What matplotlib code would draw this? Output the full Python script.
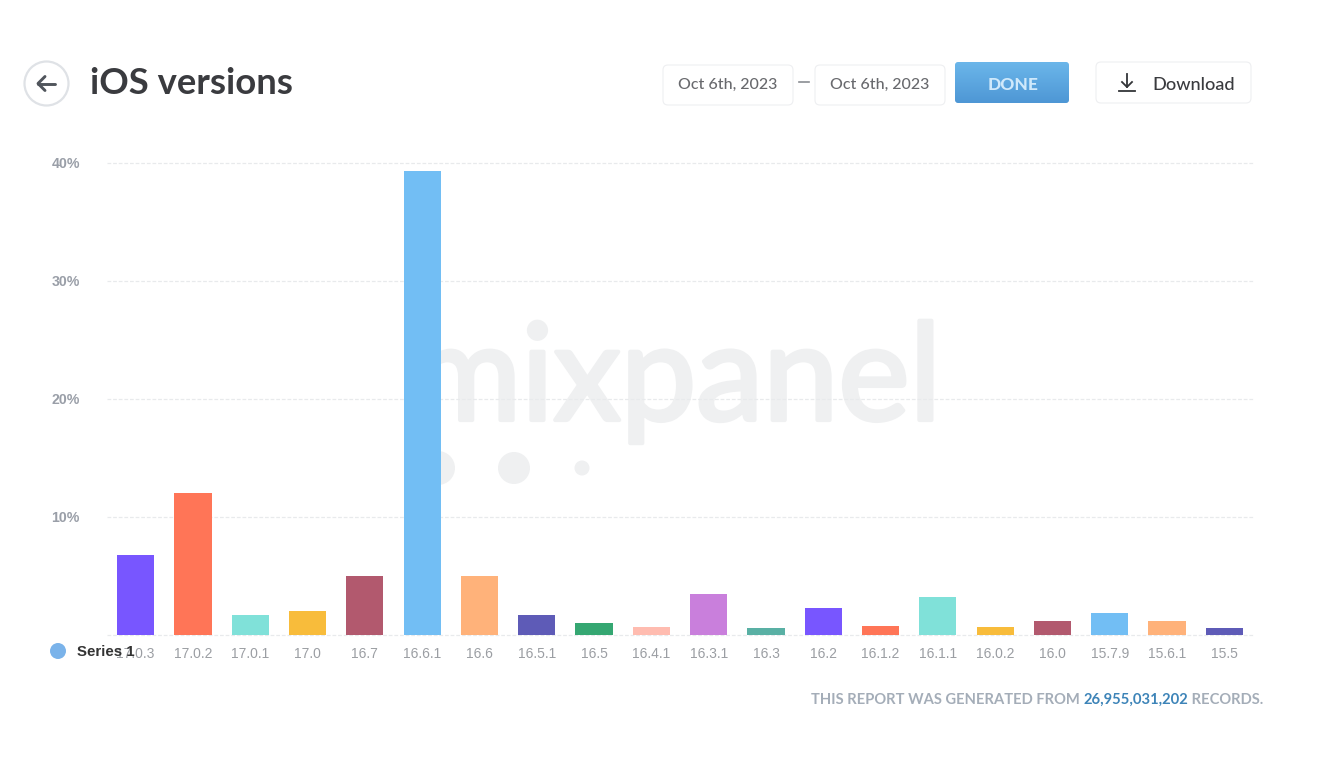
import numpy as np
import matplotlib
matplotlib.use('Agg')
import matplotlib.pyplot as plt
import matplotlib.patheffects as pe
from matplotlib.patches import FancyBboxPatch, Circle

# versions and share of users (%)
versions = ['17.0.3', '17.0.2', '17.0.1', '17.0', '16.7', '16.6.1', '16.6', '16.5.1', '16.5', '16.4.1',
            '16.3.1', '16.3', '16.2', '16.1.2', '16.1.1', '16.0.2', '16.0', '15.7.9', '15.6.1', '15.5']
shares = [6.8, 12.0, 1.7, 2.0, 5.0, 39.3, 5.0, 1.7, 1.0, 0.7,
          3.5, 0.6, 2.3, 0.8, 3.2, 0.7, 1.2, 1.9, 1.2, 0.6]
palette = ['#7856ff', '#ff7557', '#80e1d9', '#f8bc3b', '#b2596e', '#72bef4', '#ffb27a', '#5e5bb7', '#35a772', '#ffbcb0',
           '#c97fdc', '#59b0a4', '#7856ff', '#ff7557', '#80e1d9', '#f8bc3b', '#b2596e', '#72bef4', '#ffb27a', '#5e5bb7']
y_ticks = [10, 20, 30, 40]
y_labels = ['10%', '20%', '30%', '40%']

W, H = 1333, 762
fig = plt.figure(figsize=(W / 100, H / 100), dpi=100, facecolor='white')

# pixel layer behind the chart: watermark
bg = fig.add_axes([0, 0, 1, 1], zorder=0)
bg.set_xlim(0, W)
bg.set_ylim(H, 0)
bg.axis('off')
WM = '#eff0f1'
bg.text(676, 420, 'mixpanel', fontsize=97, family='Lato', color=WM, ha='center', va='baseline',
        path_effects=[pe.withStroke(linewidth=3, foreground=WM)])
for cx, cy, r in [(438, 468, 17), (514, 468, 16), (582, 468, 7.5)]:
    bg.add_patch(Circle((cx, cy), r, color=WM, lw=0))

# the chart itself
left, right, top, bottom = 107, 1253, 163, 635
ax = fig.add_axes([left / W, 1 - bottom / H, (right - left) / W, (bottom - top) / H], zorder=1)
ax.patch.set_alpha(0)
x = np.arange(len(versions))
ax.bar(x, shares, width=0.65, color=palette, zorder=3)
ax.set_xlim(-0.5, len(versions) - 0.5)
ax.set_ylim(0, 40)
for s in ax.spines.values():
    s.set_visible(False)
ax.set_yticks([0] + y_ticks)
ax.set_yticklabels([''] + y_labels, fontsize=10.2, fontweight='bold', color='#9a9fa8', family='Liberation Sans')
ax.set_xticks(x)
ax.set_xticklabels(versions, fontsize=10, color='#9b9ea3', family='Liberation Sans')
ax.tick_params(axis='both', length=0)
ax.tick_params(axis='x', pad=9)
ax.tick_params(axis='y', pad=19.5)
ax.grid(axis='y', color='#e8eaec', lw=0.9, ls=(0, (3, 1.5)), zorder=1, clip_on=False)
ax.set_axisbelow(True)

# pixel layer on top: header, buttons, legend, footer
fg = fig.add_axes([0, 0, 1, 1], zorder=2)
fg.patch.set_alpha(0)
fg.set_xlim(0, W)
fg.set_ylim(H, 0)
fg.axis('off')


def box(x0, y0, x1, y1, ec='#eeeff1', fc='white', rad=5):
    p = FancyBboxPatch((x0, y0), x1 - x0, y1 - y0, boxstyle=f'round,pad=0,rounding_size={rad}',
                       fc=fc, ec=ec, lw=0.8)
    fg.add_patch(p)
    return p


# back button and title
fg.add_patch(Circle((46.5, 83.5), 22, fc='white', ec='#dfe2e6', lw=1.6))
fg.plot([38, 55], [83.5, 83.5], color='#50555c', lw=2.1, solid_capstyle='round')
fg.plot([45, 38, 45], [76.5, 83.5, 90.5], color='#50555c', lw=2.1, solid_capstyle='round', solid_joinstyle='round')
fg.text(90, 94.5, 'iOS versions', fontsize=26.3, family='Lato', fontweight='bold', color='#3a3b3f', va='baseline')

# date pickers
box(663, 65, 793, 105)
box(815, 65, 945, 105)
fg.text(728, 85, 'Oct 6th, 2023', fontsize=11.5, family='Lato', fontweight='medium', color='#68696d', ha='center', va='center')
fg.text(880, 85, 'Oct 6th, 2023', fontsize=11.5, family='Lato', fontweight='medium', color='#68696d', ha='center', va='center')
fg.plot([799, 809], [81.5, 81.5], color='#8a8d92', lw=1.2)

# done button with a soft vertical gradient
done = box(955, 62, 1069, 103, ec='none', fc='none', rad=3)
grad = np.linspace(0, 1, 64).reshape(-1, 1)
img = fg.imshow(grad, extent=(955, 1069, 103, 62), aspect='auto', zorder=1,
                cmap=matplotlib.colors.LinearSegmentedColormap.from_list('b', ['#6bb6ea', '#4e97d5']))
img.set_clip_path(done)
fg.set_xlim(0, W)
fg.set_ylim(H, 0)
fg.text(1013, 84.5, 'DONE', fontsize=12.5, family='Lato', fontweight='black', color='#cfe9fb', ha='center', va='center', zorder=3)

# download button
box(1096, 62, 1251, 103)
fg.plot([1127, 1127], [74, 87], color='#333538', lw=1.3)
fg.plot([1122, 1127, 1132], [82, 87, 82], color='#333538', lw=1.3)
fg.plot([1119, 1135], [91, 91], color='#333538', lw=1.3)
fg.text(1152, 84.5, 'Download', fontsize=13.1, family='Lato', fontweight='medium', color='#3a3b3f', va='center')

# legend sits on top of the first tick label, as in the original
fg.add_patch(Circle((58, 651), 8, color='#7ab3ea', lw=0))
fg.text(77, 652, 'Series 1', fontsize=10.8, family='Liberation Sans', fontweight='bold', color='#333333', va='center')

# footer
foot = fg.text(811, 700, 'THIS REPORT WAS GENERATED FROM ', fontsize=10.6, family='Lato', fontweight='bold', color='#a4adb8', va='center')
num = fg.annotate('26,955,031,202', xy=(1, 0.5), xycoords=foot, fontsize=10.6, family='Lato', fontweight='bold',
                  color='#3d84b8', va='center')
fg.annotate(' RECORDS.', xy=(1, 0.5), xycoords=num, fontsize=10.6, family='Lato', fontweight='bold', color='#a4adb8', va='center')

fig.savefig('out.png', dpi=100)
